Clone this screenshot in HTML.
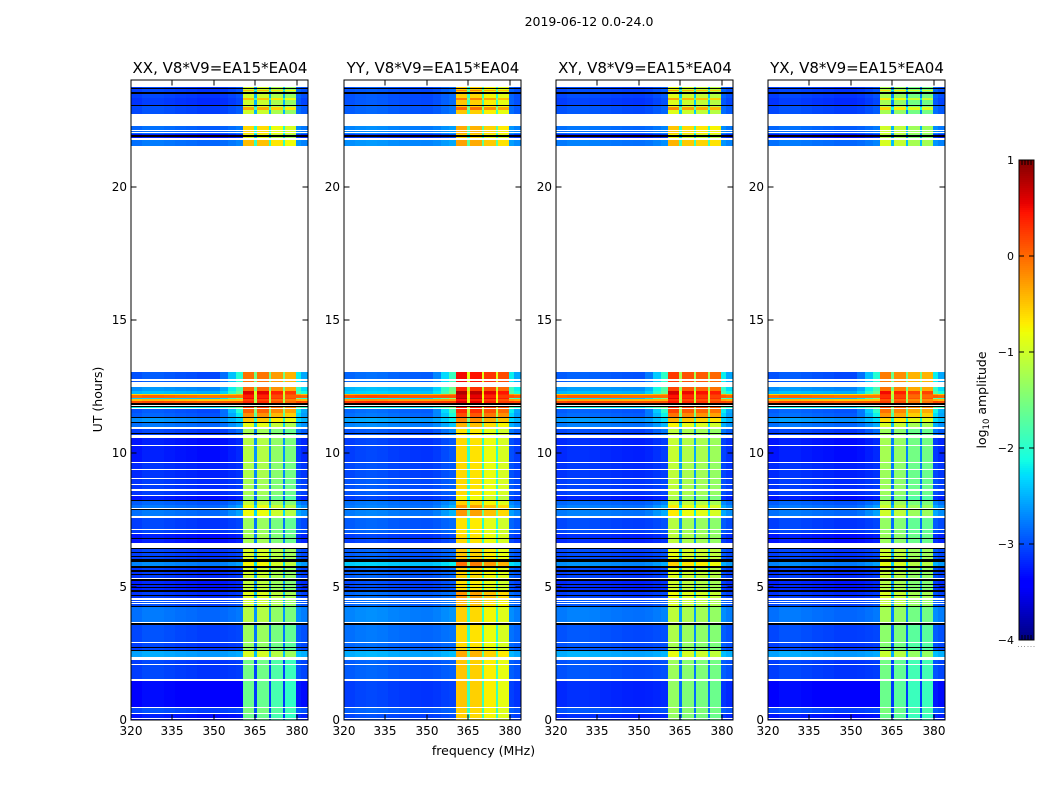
<!DOCTYPE html>
<html lang="en">
<head>
<meta charset="utf-8">
<title>2019-06-12 0.0-24.0</title>
<style>
html,body{margin:0;padding:0;background:#fff;width:1050px;height:800px;overflow:hidden}
svg{display:block}
text{font-family:"DejaVu Sans","Liberation Sans",sans-serif;fill:#000}
</style>
</head>
<body>
<svg id="figure" xmlns="http://www.w3.org/2000/svg" width="1050" height="800" viewBox="0 0 1050 800">
<rect x="0" y="0" width="1050" height="800" fill="#fff"/>
<text x="589" y="26" font-size="12.5" text-anchor="middle">2019-06-12 0.0-24.0</text>
<text x="102" y="399.5" font-size="12.5" text-anchor="middle" transform="rotate(-90 102 399.5)">UT (hours)</text>
<text x="483.5" y="755" font-size="12.5" text-anchor="middle">frequency (MHz)</text>
<text x="986" y="400" font-size="12.5" text-anchor="middle" transform="rotate(-90 986 400)">log<tspan font-size="8.5" dy="3">10</tspan><tspan dy="-3"> amplitude</tspan></text>
</svg>
<script>
// Axis ticks
const freqTicks = [320, 335, 350, 365, 380];
const utTicks = [0, 5, 10, 15, 20];
const colorTicks = [1, 0, -1, -2, -3, -4];

// Polarisation panels
const panelTitles = ["XX, V8*V9=EA15*EA04", "YY, V8*V9=EA15*EA04", "XY, V8*V9=EA15*EA04", "YX, V8*V9=EA15*EA04"];
const panelKeys = ["XX", "YY", "XY", "YX"];

// Frequency zones (MHz) of the dynamic spectrum
const zoneEdges = [320,324,328,332,336,340,344,348,352,355,358,360.5,364.6,365.4,369.8,370.6,374.8,375.6,379.8,381.5,384];
const zoneIsPatch = [0,0,0,0,0,0,0,0,0,0,0,1,1,1,1,1,1,1,0,0];
const zoneShoulder = [0,0,0,0,0,0,0,0,0.2,0.6,1,0,0,0,0,0,0,0,0.7,0.4];

// Log10 amplitude offset per frequency zone
const profileXX = [0.02,0.08,0.08,0.05,0.02,0,-0.03,-0.03,-0.03,-0.03,-0.03,0,-1.5,-0.02,-1.5,-0.22,-1.5,-0.35,0.1,0.05];
const profileYY = [0.02,0.06,0.08,0.06,0.02,0,-0.02,-0.03,-0.02,0,0,0,-1.4,-0.05,-1.4,-0.22,-1.4,-0.35,0,-0.05];
const profileXY = [0.02,0.06,0.06,0.05,0.02,0,-0.02,-0.03,-0.03,-0.03,-0.03,0,-1.5,-0.12,-1.5,-0.18,-1.5,-0.25,0.05,0];
const profileYX = [0.02,0.08,0.08,0.05,0.02,0,-0.03,-0.03,-0.03,-0.03,-0.03,0,-1.5,-0.1,-1.5,-0.3,-1.5,-0.3,0.1,0.05];

// Time bands: start (upper edge) in UT hours; each band runs to the next value, the last one to 0
const bandTopUT = [23.73,23.64,23.59,23.33,23.25,23.03,22.97,22.88,22.28,21.96,21.76,
13.04,12.50,12.35,12.23,12.17,12.09,12.03,11.96,11.87,11.65,11.51,11.33,11.14,10.94,10.56,9.65,9.04,8.40,8.20,8.06,7.59,6.97,6.41,5.94,5.71,5.21,4.80,4.50,4.24,3.57,2.89,2.60,2.25,1.47,0.44,0.24];

// Background (off-band) level per time band, log10 amplitude
const bgXX = [-3.1,-3.1,-3.1,-3.15,-3.15,-3.05,-3.05,-3.05,-2.9,-3.3,-2.85,
-3.0,-2.7,-2.5,-0.6,-0.05,-2.4,-0.5,0.1,-2.2,-3.0,-2.95,-2.7,-2.85,-3.1,-3.3,-3.2,-3.15,-3.3,-2.95,-2.85,-3.1,-3.3,-3.1,-2.75,-3.15,-3.25,-3.15,-3.05,-2.85,-3.05,-3.1,-2.6,-3.1,-3.4,-3.05,-3.3];
const bgYY = [-3.0,-3.0,-3.0,-3.0,-3.0,-2.95,-2.95,-2.95,-2.75,-3.15,-2.7,
-2.9,-2.5,-2.4,-0.4,0.1,-2.3,-0.3,0.25,-2.2,-2.9,-2.85,-2.6,-2.75,-3.0,-3.1,-3.05,-3.0,-3.1,-2.85,-2.8,-2.95,-3.1,-2.95,-2.4,-2.95,-3.05,-2.9,-2.9,-2.75,-2.85,-2.9,-2.55,-2.95,-3.1,-2.95,-3.05];
const bgXY = [-3.05,-3.05,-3.05,-3.1,-3.1,-3.0,-3.0,-3.0,-2.85,-3.25,-2.8,
-2.95,-2.65,-2.5,-0.5,0,-2.4,-0.4,0.15,-2.2,-2.95,-2.9,-2.65,-2.8,-3.05,-3.2,-3.15,-3.1,-3.25,-2.9,-2.8,-3.05,-3.2,-3.05,-2.7,-3.1,-3.2,-3.1,-3.0,-2.8,-3.0,-3.0,-2.55,-3.0,-3.2,-3.0,-3.2];
const bgYX = [-3.1,-3.1,-3.1,-3.15,-3.15,-3.05,-3.05,-3.05,-2.9,-3.3,-2.85,
-3.0,-2.7,-2.5,-0.6,-0.05,-2.4,-0.5,0.1,-2.2,-2.95,-2.9,-2.65,-2.85,-3.1,-3.3,-3.2,-3.15,-3.3,-2.95,-2.85,-3.1,-3.3,-3.1,-2.75,-3.15,-3.25,-3.15,-3.05,-2.85,-3.05,-3.1,-2.6,-3.1,-3.4,-3.05,-3.3];

// In-band (360-380 MHz) level per time band, log10 amplitude
const patchXX = [-1.0,-0.4,-1.0,-0.45,-1.0,-1.0,-0.35,-1.0,-0.6,-0.9,-0.45,
-0.05,0,0.6,0.5,0.4,0.5,0.2,0.35,0.2,0.05,-0.2,-0.5,-0.85,-1.25,-1.15,-1.2,-1.25,-1.4,-1.1,-0.8,-1.3,-1.25,-0.95,-0.75,-1.0,-1.1,-0.9,-1.0,-1.15,-1.3,-1.35,-0.95,-1.55,-1.6,-1.5,-1.6];
const patchYY = [-0.55,-0.1,-0.55,-0.1,-0.5,-0.5,0,-0.5,-0.35,-0.6,-0.3,
0.5,0.35,0.8,0.7,0.6,0.75,0.45,0.6,0.45,0.35,0.15,-0.15,-0.4,-0.65,-0.6,-0.6,-0.6,-0.75,-0.55,-0.25,-0.65,-0.6,-0.5,-0.05,-0.55,-0.65,-0.25,-0.4,-0.55,-0.6,-0.6,-0.35,-0.5,-0.5,-0.55,-0.55];
const patchXY = [-0.9,-0.25,-0.9,-0.3,-0.9,-0.9,-0.2,-0.9,-0.5,-0.85,-0.4,
0.25,0.2,0.65,0.55,0.45,0.55,0.3,0.45,0.3,0.2,-0.05,-0.4,-0.75,-1.1,-1.05,-1.1,-1.1,-1.25,-1.0,-0.7,-1.15,-1.1,-0.85,-0.55,-0.9,-1.0,-0.8,-0.95,-1.1,-1.2,-1.25,-0.85,-1.3,-1.35,-1.3,-1.35];
const patchYX = [-1.25,-0.6,-1.25,-0.7,-1.25,-1.25,-0.6,-1.25,-1.0,-1.15,-0.95,
-0.1,-0.05,0.5,0.35,0.3,0.4,0.1,0.25,0.1,-0.05,-0.25,-0.6,-0.95,-1.3,-1.25,-1.3,-1.3,-1.45,-1.2,-1.0,-1.35,-1.3,-1.0,-0.85,-1.05,-1.15,-0.95,-1.05,-1.25,-1.4,-1.45,-1.05,-1.55,-1.6,-1.5,-1.6];

// Extra level next to the band edges per time band (log10 amplitude)
const shoulderLift = [0.15,0.15,0.15,0.15,0.15,0.15,0.15,0.15,0.15,0.15,0.15,
1.0,0.9,0.9,0.2,0,0.9,0,0,0.7,1.0,0.75,0.4,0.35,0.3,0.15,0.1,0.1,0.1,0.2,0.3,0.1,0.1,0.1,0.2,0.1,0.1,0.1,0.1,0.1,0.05,0.05,0.1,0.05,0.05,0.05,0.05];

// Flagged (black) intervals in UT hours
const flagTop = [23.70,23.54,23.06,21.94,11.87,11.76,11.35,11.16,10.75,8.24,7.92,6.83,6.46,6.31,6.14,6.03,5.79,5.61,5.49,5.30,5.10,4.99,4.88,4.69,4.28,3.64,2.74,2.63];
const flagBottom = [23.68,23.49,23.03,21.88,11.83,11.72,11.33,11.14,10.73,8.20,7.89,6.79,6.41,6.26,6.10,5.94,5.71,5.56,5.44,5.21,5.06,4.95,4.80,4.64,4.24,3.57,2.71,2.60];

// Missing-data (white) intervals in UT hours
const gapTop = [24,22.73,22.13,22.04,21.84,21.52,12.79,12.69,11.81,11.71,10.97,10.69,10.30,9.67,9.41,9.07,8.86,8.66,8.44,7.96,7.65,7.17,7.01,6.65,5.34,4.59,4.46,4.39,3.68,2.93,2.37,2.10,1.52,0.47,0.28,0.09];
const gapBottom = [23.73,22.28,22.09,22.0,21.76,13.04,12.72,12.50,11.79,11.65,10.93,10.56,10.27,9.65,9.37,9.04,8.83,8.60,8.41,7.93,7.59,7.14,6.98,6.46,5.30,4.50,4.41,4.35,3.64,2.89,2.25,2.06,1.47,0.44,0.24,0.06];

const bgByPanel = {XX: bgXX, YY: bgYY, XY: bgXY, YX: bgYX};
const patchByPanel = {XX: patchXX, YY: patchYY, XY: patchXY, YX: patchYX};
const profileByPanel = {XX: profileXX, YY: profileYY, XY: profileXY, YX: profileYX};

const SVGNS = "http://www.w3.org/2000/svg";
const fig = document.getElementById("figure");
const plotLeft = [131, 344, 556, 768];
const plotWidth = 177;
const plotTop = 80, plotBottom = 720;
const cbLeft = 1019, cbRight = 1034, cbTop = 160, cbBottom = 640;
const freqMin = 320, freqMax = 384, utMin = 0, utMax = 24, colorMin = -4, colorMax = 1;

function xScale(p, f) { return plotLeft[p] + (f - freqMin) / (freqMax - freqMin) * plotWidth; }
function yScale(u) { return plotBottom - (u - utMin) / (utMax - utMin) * (plotBottom - plotTop); }
function cScale(v) { return cbBottom - (v - colorMin) / (colorMax - colorMin) * (cbBottom - cbTop); }

function interp(t, xs, ys) {
  for (let i = 1; i < xs.length; i++) {
    if (t <= xs[i]) return ys[i-1] + (t - xs[i-1]) / (xs[i] - xs[i-1]) * (ys[i] - ys[i-1]);
  }
  return ys[ys.length-1];
}
function jet(v) {
  const t = Math.max(0, Math.min(1, (v - colorMin) / (colorMax - colorMin)));
  const r = interp(t, [0,0.35,0.66,0.89,1], [0,0,1,1,0.5]);
  const g = interp(t, [0,0.125,0.375,0.64,0.91,1], [0,0,1,1,0,0]);
  const b = interp(t, [0,0.11,0.34,0.65,1], [0.5,1,1,0,0]);
  return "rgb(" + Math.round(r*255) + "," + Math.round(g*255) + "," + Math.round(b*255) + ")";
}

function makeRect(parent, name, x, y, w, h, fill) {
  const el = document.createElementNS(SVGNS, "rect");
  
  
  el.setAttribute("x", x);
  el.setAttribute("y", y);
  el.setAttribute("width", w);
  el.setAttribute("height", h);
  el.setAttribute("fill", fill);
  parent.appendChild(el);
  return el;
}
function makeText(parent, name, x, y, size, anchor, str) {
  const el = document.createElementNS(SVGNS, "text");
  
  
  el.setAttribute("x", x);
  el.setAttribute("y", y);
  el.setAttribute("font-size", size);
  el.setAttribute("text-anchor", anchor);
  el.textContent = str;
  parent.appendChild(el);
  return el;
}
function makeLine(parent, name, x1, y1, x2, y2, color) {
  const el = document.createElementNS(SVGNS, "line");
  
  
  el.setAttribute("x1", x1);
  el.setAttribute("y1", y1);
  el.setAttribute("x2", x2);
  el.setAttribute("y2", y2);
  el.setAttribute("stroke", color);
  el.setAttribute("stroke-width", "1");
  parent.appendChild(el);
  return el;
}
function makeGroup(name, parent) {
  const el = document.createElementNS(SVGNS, "g");
  
  
  parent.appendChild(el);
  return el;
}

function pixelSpan(uTop, uBottom) {
  const y0 = Math.round(yScale(uTop));
  const y1 = Math.round(yScale(uBottom));
  return [y0, Math.max(1, y1 - y0)];
}

panelKeys.forEach(function (key, p) {
  const panel = makeGroup("panel-" + key.toLowerCase(), fig);
  const cells = makeGroup("heatmap-" + key.toLowerCase(), panel);
  cells.setAttribute("shape-rendering", "crispEdges");
  const bg = bgByPanel[key], patch = patchByPanel[key], prof = profileByPanel[key];

  bandTopUT.forEach(function (top, b) {
    const bottom = b + 1 < bandTopUT.length ? bandTopUT[b + 1] : utMin;
    const span = pixelSpan(top, bottom);
    for (let z = 0; z < zoneIsPatch.length; z++) {
      const level = zoneIsPatch[z] ? patch[b] + prof[z] : bg[b] + prof[z] + zoneShoulder[z] * shoulderLift[b];
      const x0 = Math.round(xScale(p, zoneEdges[z]));
      const x1 = Math.round(xScale(p, zoneEdges[z + 1]));
      makeRect(cells, "heatmap-cell", x0, span[0], x1 - x0, span[1], jet(level));
    }
  });

  flagTop.forEach(function (top, i) {
    const span = pixelSpan(top, flagBottom[i]);
    makeRect(cells, "flagged-interval", plotLeft[p], span[0], plotWidth, span[1], "#000");
  });
  gapTop.forEach(function (top, i) {
    const span = pixelSpan(top, gapBottom[i]);
    makeRect(cells, "data-gap", plotLeft[p], span[0], plotWidth, span[1], "#fff");
  });

  const frame = makeRect(panel, "plot-frame", plotLeft[p], plotTop, plotWidth, plotBottom - plotTop, "none");
  frame.setAttribute("stroke", "#000");
  frame.setAttribute("stroke-width", "1");

  freqTicks.forEach(function (f) {
    const x = Math.round(xScale(p, f));
    makeLine(panel, "x-tick-bottom", x, plotBottom, x, plotBottom - 5.5, "#000");
    makeLine(panel, "x-tick-top", x, plotTop, x, plotTop + 5.5, "#000");
    makeText(panel, "x-tick-label", x, 735, 12, "middle", String(f));
  });
  utTicks.forEach(function (u) {
    const y = Math.round(yScale(u));
    makeLine(panel, "y-tick-left", plotLeft[p], y, plotLeft[p] + 5.5, y, "#000");
    makeLine(panel, "y-tick-right", plotLeft[p] + plotWidth, y, plotLeft[p] + plotWidth - 5.5, y, "#000");
    makeText(panel, "y-tick-label", plotLeft[p] - 4, y + 4, 12, "end", String(u));
  });

  makeText(panel, "panel-title", plotLeft[p] + plotWidth / 2 + 0.5, 73, 15, "middle", panelTitles[p]);
});

// Colorbar
const cbar = makeGroup("colorbar", fig);
const cbarFill = makeGroup("colorbar-gradient", cbar);
cbarFill.setAttribute("shape-rendering", "crispEdges");
for (let y = cbTop; y < cbBottom; y += 2) {
  const v = colorMin + (cbBottom - (y + 1)) / (cbBottom - cbTop) * (colorMax - colorMin);
  makeRect(cbarFill, "colorbar-step", cbLeft, y, cbRight - cbLeft, 2, jet(v));
}
const cbFrame = makeRect(cbar, "colorbar-frame", cbLeft, cbTop, cbRight - cbLeft, cbBottom - cbTop, "none");
cbFrame.setAttribute("stroke", "#000");
cbFrame.setAttribute("stroke-width", "1");
colorTicks.forEach(function (v) {
  const y = Math.round(cScale(v));
  if (v !== colorMax && v !== colorMin) {
    makeLine(cbar, "colorbar-tick-left", cbLeft, y, cbLeft + 5, y, "#000");
    makeLine(cbar, "colorbar-tick-right", cbRight, y, cbRight - 5, y, "#000");
  }
  const label = v < 0 ? "\u2212" + Math.abs(v) : String(v);
  makeText(cbar, "colorbar-tick-label", cbLeft - 5, y + 4, 11, "end", label);
});
for (let i = 1; i < 5; i++) {
  const x = Math.round(cbLeft + i * (cbRight - cbLeft) / 5);
  makeLine(cbar, "colorbar-top-tick", x, cbTop, x, cbTop + 5, "#000");
  makeLine(cbar, "colorbar-bottom-tick", x, cbBottom, x, cbBottom - 5, "#000");
}
for (let i = 0; i < 6; i++) {
  const dot = makeRect(cbar, "colorbar-tiny-tick-label", cbLeft - 1 + i * 3.1, 646, 1, 1, "#999");
  dot.setAttribute("shape-rendering", "crispEdges");
}
</script>
</body>
</html>
